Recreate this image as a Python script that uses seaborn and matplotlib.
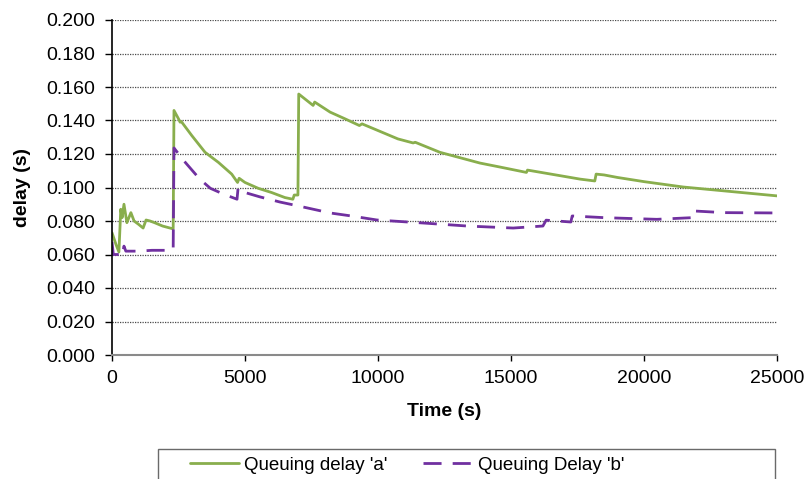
import numpy as np
import pandas as pd
import matplotlib
matplotlib.use("Agg")
import matplotlib.pyplot as plt
from matplotlib.patches import Rectangle
import seaborn as sns

# --- data ---
time_a = [0, 150, 260, 330, 380, 450, 560, 710, 830, 1000, 1170, 1280, 1430, 1600, 1900,
          2250, 2300, 2330, 2500, 2560, 2600, 3000, 3500, 4000, 4500, 4720, 4780, 5000,
          5500, 6000, 6500, 6800, 6850, 6990, 7020, 7560, 7620, 8200, 8760, 9300, 9400,
          10000, 10750, 11320, 11400, 12330, 13830, 14590, 15580, 15620, 16500, 17600,
          18150, 18200, 18500, 19000, 20000, 21470, 23000, 25000]
delay_a = [0.073, 0.066, 0.0615, 0.087, 0.082, 0.090, 0.079, 0.085, 0.080, 0.078, 0.0758,
           0.0806, 0.080, 0.079, 0.077, 0.0755, 0.0755, 0.146, 0.141, 0.139, 0.1395, 0.131,
           0.121, 0.115, 0.108, 0.103, 0.1055, 0.103, 0.0995, 0.097, 0.094, 0.093, 0.0955,
           0.0955, 0.1558, 0.149, 0.151, 0.145, 0.141, 0.137, 0.138, 0.134, 0.129, 0.1266,
           0.127, 0.121, 0.1146, 0.1122, 0.109, 0.1104, 0.108, 0.105, 0.1039, 0.108, 0.1075,
           0.106, 0.1035, 0.1003, 0.098, 0.095]

time_b = [0, 50, 300, 380, 450, 520, 1000, 1500, 2000, 2300, 2330, 2700, 3300, 3700, 4200,
          4700, 4740, 5000, 5560, 6320, 7000, 8200, 9000, 9960, 11700, 13350, 15080, 16200,
          16320, 17250, 17300, 18500, 20480, 21820, 21860, 23000, 25000]
delay_b = [0.0675, 0.060, 0.060, 0.059, 0.065, 0.062, 0.062, 0.0625, 0.0625, 0.0627, 0.1236,
           0.116, 0.105, 0.0995, 0.096, 0.093, 0.0997, 0.097, 0.0944, 0.0913, 0.089, 0.0848,
           0.083, 0.0806, 0.0788, 0.0770, 0.0758, 0.077, 0.0805, 0.0794, 0.083, 0.082, 0.081,
           0.082, 0.086, 0.085, 0.0848]

series_names = ["Queuing delay 'a'", "Queuing Delay 'b'"]
y_ticks = [0.0, 0.02, 0.04, 0.06, 0.08, 0.10, 0.12, 0.14, 0.16, 0.18, 0.20]
x_ticks = [0, 5000, 10000, 15000, 20000, 25000]

df = pd.concat([
    pd.DataFrame({"Time": time_a, "delay": delay_a, "series": series_names[0]}),
    pd.DataFrame({"Time": time_b, "delay": delay_b, "series": series_names[1]}),
], ignore_index=True)

sns.set_theme(style="white")
plt.rcParams["font.family"] = ["Liberation Sans", "DejaVu Sans"]

W, H = 807, 479
fig = plt.figure(figsize=(W/100, H/100), dpi=100)
ax = fig.add_axes([112/W, 1-355/H, (777-112)/W, (355-20)/H])

green = "#89AE4D"
purple = "#7030A0"
sns.lineplot(data=df, x="Time", y="delay", hue="series", style="series",
             palette={series_names[0]: green, series_names[1]: purple},
             dashes={series_names[0]: "", series_names[1]: (6.5, 4)},
             estimator=None, sort=False, linewidth=2.0, ax=ax, legend=True)

ax.set_xlim(0, 25000)
ax.set_ylim(0, 0.2)
ax.set_yticks(y_ticks)
ax.set_yticklabels([f"{v:.3f}" for v in y_ticks])
ax.set_xticks(x_ticks)
ax.set_xticklabels([str(v) for v in x_ticks])
for v in y_ticks[1:]:
    ax.axhline(v, color="#4a4a4a", linestyle=(0, (1.0, 1.0)), linewidth=0.9, zorder=0)

for s in ["top", "right"]:
    ax.spines[s].set_visible(False)
ax.spines["left"].set_color("black")
ax.spines["left"].set_linewidth(1.2)
ax.spines["bottom"].set_color("#8a8a8a")
ax.spines["bottom"].set_linewidth(1.5)

ax.tick_params(axis="y", direction="out", length=5, width=1, color="black",
               labelsize=14, pad=7, left=True, labelcolor="black")
ax.tick_params(axis="x", direction="out", length=4, width=1, color="black",
               labelsize=14, pad=7, bottom=True, labelcolor="black")
ax.set_xlabel("Time (s)", fontsize=14, fontweight="bold", labelpad=11, color="black")
ax.set_ylabel("delay (s)", fontsize=14, fontweight="bold", labelpad=11, color="black")

handles, labels = ax.get_legend_handles_labels()
leg = ax.legend(handles, labels, ncol=2, loc="center left",
                bbox_to_anchor=(190/W, 1-465/H), bbox_transform=fig.transFigure,
                frameon=False, fontsize=13.5, handlelength=2.6,
                handletextpad=0.3, columnspacing=1.9, borderpad=0, borderaxespad=0)
for h in leg.get_lines():
    h.set_linewidth(2.0)
for t in leg.get_texts():
    t.set_color("black")

fig.patches.append(Rectangle((158/W, -0.05), (775-158)/W, 0.05 + (479-449)/H,
                             transform=fig.transFigure, fill=False,
                             edgecolor="#6a6a6a", linewidth=1.0))

fig.savefig("out.png", dpi=100)
